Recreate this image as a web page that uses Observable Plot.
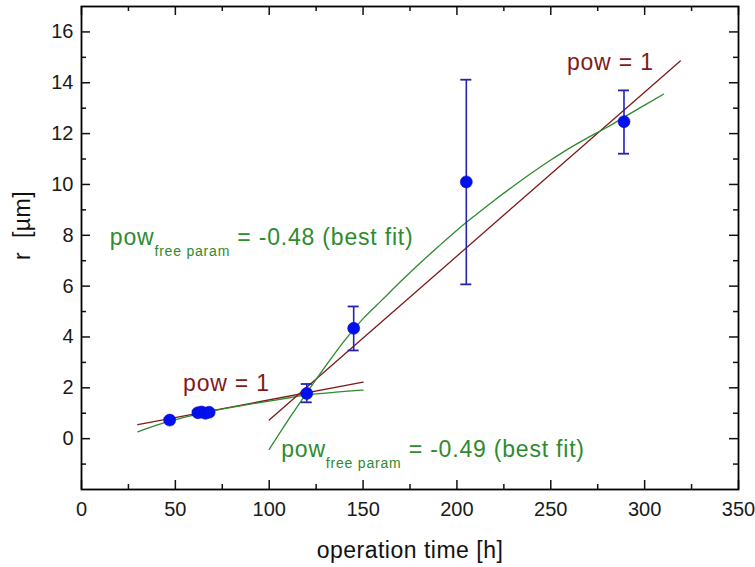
<!DOCTYPE html>
<html>
<head>
<meta charset="utf-8">
<script src="https://cdn.jsdelivr.net/npm/d3@7"></script>
<script src="https://cdn.jsdelivr.net/npm/@observablehq/plot@0.6"></script>
<style>
  html, body { margin: 0; padding: 0; background: #fff; }
  #chart { width: 755px; height: 567px; }
</style>
</head>
<body>
<div id="chart"></div>
<script>
// ---- data ----
const pointT = [47, 62, 64, 66, 68, 120, 145, 205, 289];
const pointR = [0.73, 1.02, 1.05, 1.0, 1.04, 1.78, 4.34, 10.1, 12.47];
const errLo  = [0.65, 0.93, 0.95, 0.92, 0.95, 1.43, 3.47, 6.07, 11.21];
const errHi  = [0.81, 1.10, 1.13, 1.08, 1.12, 2.15, 5.20, 14.12, 13.70];

const redEarlyT = [30, 150];
const redEarlyR = [0.55, 2.22];
const greenEarlyT = [30, 40, 50, 60, 70, 80, 90, 100, 110, 120, 130, 140, 150];
const greenEarlyR = [0.27, 0.53, 0.75, 0.93, 1.09, 1.23, 1.36, 1.48, 1.60, 1.72, 1.79, 1.86, 1.91];

const redLateT = [100, 319];
const redLateR = [0.73, 14.86];
const greenLateT = [100, 110, 120, 130, 140, 150, 160, 170, 180, 190, 200, 210, 220, 230, 240, 250, 260, 270, 280, 290, 300, 310];
const greenLateR = [-0.42, 0.72, 1.80, 2.85, 3.85, 4.72, 5.45, 6.18, 6.88, 7.55, 8.20, 8.80, 9.38, 9.93, 10.46, 10.96, 11.43, 11.85, 12.25, 12.69, 13.12, 13.55];

const labelText = ["pow = 1", "pow = 1", "pow|free param|= -0.48 (best fit)", "pow|free param|= -0.49 (best fit)"];
const labelT = [258.6, 54.1, 15.1, 106.4];
const labelR = [14.5, 1.89, 7.6, -0.71];
const labelKind = ["red", "red", "green", "green"];

const xMajor = [0, 50, 100, 150, 200, 250, 300, 350];
const xMinor = [25, 75, 125, 175, 225, 275, 325];
const yMajor = [0, 2, 4, 6, 8, 10, 12, 14, 16];
const yMinor = [-1, 1, 3, 5, 7, 9, 11, 13, 15];

const xTitle = "operation time [h]";
const yTitle = "r  [µm]";

// ---- tables ----
const points = pointT.map((t, i) => ({t, r: pointR[i], lo: errLo[i], hi: errHi[i]}));
const toRows = (T, R) => T.map((t, i) => ({t, r: R[i]}));
const redEarly = toRows(redEarlyT, redEarlyR);
const greenEarly = toRows(greenEarlyT, greenEarlyR);
const redLate = toRows(redLateT, redLateR);
const greenLate = toRows(greenLateT, greenLateR);
const labels = labelText.map((s, i) => ({s, t: labelT[i], r: labelR[i], k: labelKind[i]}));

const W = 755, H = 567;
const mL = 81, mR = 17, mT = 6, mB = 78;
const fw = W - mL - mR, fh = H - mT - mB;
const RED = "#7f1a1a", GREEN = "#2e8b2e", BLUE = "#0011ee", EBLUE = "#2323b0";
const FONT = "'Liberation Sans', Arial, sans-serif";
const major = 9, minor = 5;

const chart = Plot.plot({
  width: W, height: H,
  marginLeft: mL, marginRight: mR, marginTop: mT, marginBottom: mB,
  style: {fontFamily: FONT, background: "#fff", color: "#1a1a1a"},
  x: {domain: [0, 350]},
  y: {domain: [-2, 17]},
  marks: [
    Plot.axisX({ticks: xMajor, tickSize: 0, tickPadding: 12, fontSize: 20, label: null, tickFormat: d => String(d)}),
    Plot.axisY({ticks: yMajor, tickSize: 0, tickPadding: 8, fontSize: 20, label: null, tickFormat: d => String(d)}),
    // inward ticks (bottom, top, left, right)
    Plot.ruleX(xMajor, {x: d => d, insetTop: fh - major, stroke: "#111", strokeWidth: 1.5}),
    Plot.ruleX(xMinor, {x: d => d, insetTop: fh - minor, stroke: "#111", strokeWidth: 1.5}),
    Plot.ruleX(xMajor, {x: d => d, insetBottom: fh - major, stroke: "#111", strokeWidth: 1.5}),
    Plot.ruleX(xMinor, {x: d => d, insetBottom: fh - minor, stroke: "#111", strokeWidth: 1.5}),
    Plot.ruleY(yMajor, {y: d => d, insetRight: fw - major, stroke: "#111", strokeWidth: 1.5}),
    Plot.ruleY(yMinor, {y: d => d, insetRight: fw - minor, stroke: "#111", strokeWidth: 1.5}),
    Plot.ruleY(yMajor, {y: d => d, insetLeft: fw - major, stroke: "#111", strokeWidth: 1.5}),
    Plot.ruleY(yMinor, {y: d => d, insetLeft: fw - minor, stroke: "#111", strokeWidth: 1.5}),
    // fit lines
    Plot.line(redEarly, {x: "t", y: "r", stroke: RED, strokeWidth: 1.3}),
    Plot.line(greenEarly, {x: "t", y: "r", stroke: GREEN, strokeWidth: 1.3, curve: "monotone-x"}),
    Plot.line(redLate, {x: "t", y: "r", stroke: RED, strokeWidth: 1.3}),
    Plot.line(greenLate, {x: "t", y: "r", stroke: GREEN, strokeWidth: 1.3, curve: "monotone-x"}),
    // error bars
    Plot.ruleX(points, {x: "t", y1: "lo", y2: "hi", stroke: EBLUE, strokeWidth: 1.6}),
    Plot.ruleY(points, {y: "hi", x1: "t", x2: "t", insetLeft: -5.5, insetRight: -5.5, stroke: EBLUE, strokeWidth: 1.8}),
    Plot.ruleY(points, {y: "lo", x1: "t", x2: "t", insetLeft: -5.5, insetRight: -5.5, stroke: EBLUE, strokeWidth: 1.8}),
    // points
    Plot.dot(points, {x: "t", y: "r", r: 6, fill: BLUE, stroke: "#0a0ad0", strokeWidth: 0.6}),
    // annotations
    Plot.text(labels, {x: "t", y: "r", text: "s", textAnchor: "start", lineAnchor: "bottom",
      fill: d => d.k === "red" ? RED : GREEN, fontSize: 23}),
    // axis titles
    Plot.text([xTitle], {frameAnchor: "bottom", dy: 68, lineAnchor: "bottom", fontSize: 23, fill: "#111"}),
    Plot.text([yTitle], {frameAnchor: "left", rotate: -90, dx: -59, dy: 12, fontSize: 23, fill: "#111"}),
    Plot.frame({stroke: "#000", strokeWidth: 1.8})
  ]
});

// annotation styling: letter-spacing and subscripts
d3.select(chart).selectAll("text").each(function() {
  const el = d3.select(this);
  const txt = this.textContent;
  if (txt.startsWith("pow")) {
    el.attr("letter-spacing", "0.8px");
    if (txt.includes("|")) {
      const [a, b, c] = txt.split("|");
      el.text(null);
      el.append("tspan").text(a);
      el.append("tspan").attr("font-size", 14).attr("dy", 11).text(b);
      el.append("tspan").attr("dy", -11).text("\u00a0" + c);
    }
  }
  if (txt === xTitle || txt === yTitle) el.attr("letter-spacing", "0.5px");
});

document.getElementById("chart").appendChild(chart);
</script>
</body>
</html>
